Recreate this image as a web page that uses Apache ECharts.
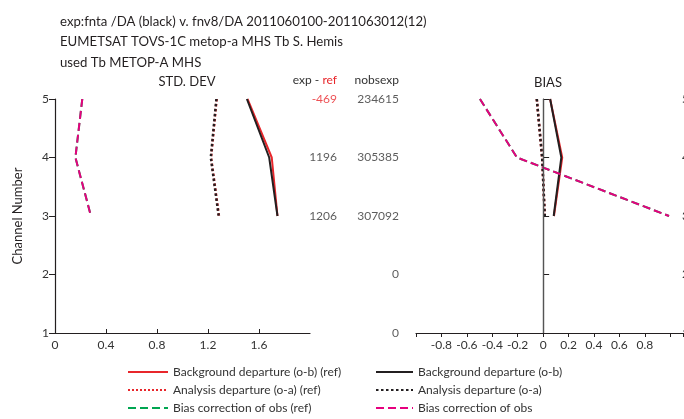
<!DOCTYPE html>
<html><head><meta charset="utf-8">
<script src="https://cdn.jsdelivr.net/npm/echarts@6/dist/echarts.min.js"></script>
<style>html,body{margin:0;padding:0;background:#fff}#c{width:684px;height:419px}</style>
</head><body><div id="c"></div>
<script>
const channels = [5, 4, 3];
const stdBgRef   = [1.51, 1.70, 1.745];
const stdBgExp   = [1.505, 1.68, 1.745];
const stdAnRef   = [1.268, 1.224, 1.286];
const stdAnExp   = [1.266, 1.222, 1.284];
const stdBcRef   = [0.214, 0.16, 0.282];
const stdBcExp   = [0.214, 0.16, 0.282];
const biasBgRef  = [0.055, 0.15, 0.085];
const biasBgExp  = [0.055, 0.143, 0.083];
const biasAnRef  = [-0.05, -0.008, 0.013];
const biasAnExp  = [-0.05, -0.008, 0.013];
const biasBcRef  = [-0.497, -0.206, 0.99];
const biasBcExp  = [-0.497, -0.206, 0.99];
const allChannels = [5, 4, 3, 2, 1];
const expMinusRef = [-469, 1196, 1206, null, null];
const nobsexp     = [234615, 305385, 307092, 0, 0];
const columnNames = ['exp - ref', 'nobsexp'];

const FONT = 'Lato';
const RED = '#e8262b', BLACK = '#231f20', GREEN = '#00a651', MAGENTA = '#e6007e';
const pair = (xs) => xs.map((x, i) => [x, channels[i]]);
const names = {
  bgRef: 'Background departure (o-b) (ref)', bgExp: 'Background departure (o-b)',
  anRef: 'Analysis departure (o-a) (ref)', anExp: 'Analysis departure (o-a)',
  bcRef: 'Bias correction of obs (ref)', bcExp: 'Bias correction of obs'
};
function ln(name, data, color, type, w, xi) {
  return { type: 'line', name, data: pair(data), xAxisIndex: xi, yAxisIndex: xi,
    symbol: 'none', lineStyle: { color, type, width: w }, itemStyle: { color }, z: 3 };
}
const axLine = { lineStyle: { color: BLACK, width: 1.2 } };
const lbl = { color: '#333', fontFamily: FONT, fontSize: 12 };
const legText = { fontFamily: FONT, fontSize: 12, color: '#333' };

const opt = {
  animation: false,
  textStyle: { fontFamily: FONT },
  title: [
    { text: 'exp:fnta /DA (black) v. fnv8/DA 2011060100-2011063012(12)\nEUMETSAT TOVS-1C metop-a MHS Tb S. Hemis\nused Tb METOP-A MHS',
      left: 55, top: 6, textStyle: { fontFamily: FONT, fontSize: 13.2, fontWeight: 'normal', color: '#231f20', lineHeight: 20.5 } },
    { text: 'STD. DEV', left: 182, top: 70, textAlign: 'center', textStyle: { fontFamily: FONT, fontSize: 13, fontWeight: 'normal', color: '#231f20' } },
    { text: 'BIAS', left: 543, top: 71, textAlign: 'center', textStyle: { fontFamily: FONT, fontSize: 13, fontWeight: 'normal', color: '#231f20' } }
  ],
  grid: [
    { left: 55, top: 99, width: 255, height: 234, outerBoundsMode: 'none' },
    { left: 416, top: 99, width: 267, height: 234, outerBoundsMode: 'none' },
    { left: 337, top: 99, width: 62, height: 234, outerBoundsMode: 'none' }
  ],
  xAxis: [
    { gridIndex: 0, type: 'value', min: 0, max: 2, interval: 0.4, splitLine: { show: false },
      axisLine: axLine, axisTick: { inside: true, length: 4, lineStyle: { color: BLACK } },
      axisLabel: Object.assign({ margin: 6, showMaxLabel: false }, lbl) },
    { gridIndex: 1, type: 'value', min: -1, max: 1.1, interval: 0.2, splitLine: { show: false },
      axisLine: axLine, axisTick: { length: 4, lineStyle: { color: BLACK } },
      axisLabel: Object.assign({ margin: 6, formatter: v => (v < -0.9 || v > 0.9) ? '' : String(+v.toFixed(1)) }, lbl) },
    { gridIndex: 2, type: 'category', data: columnNames, boundaryGap: false, position: 'top',
      axisLine: { show: false }, axisTick: { show: false },
      axisLabel: { interval: 0, hideOverlap: false, align: 'right', margin: 13, fontFamily: FONT, fontSize: 12, color: '#333',
        formatter: v => v === 'exp - ref' ? 'exp - {r|ref}' : v,
        rich: { r: { color: RED, fontFamily: FONT, fontSize: 12 } } } }
  ],
  yAxis: [
    { gridIndex: 0, type: 'value', min: 1, max: 5, interval: 1, splitLine: { show: false },
      axisLine: axLine, axisTick: { length: 6, lineStyle: { color: BLACK } },
      axisLabel: Object.assign({ margin: 6 }, lbl),
      name: 'Channel Number', nameLocation: 'middle', nameGap: 31,
      nameTextStyle: { fontFamily: FONT, fontSize: 13, color: '#231f20' } },
    { gridIndex: 1, type: 'value', min: 1, max: 5, interval: 1, position: 'right', offset: -13,
      splitLine: { show: false }, axisLine: axLine,
      axisTick: { length: 6, lineStyle: { color: BLACK } },
      axisLabel: Object.assign({ margin: 12 }, lbl) },
    { gridIndex: 2, type: 'value', min: 1, max: 5, show: false }
  ],
  legend: [
    { orient: 'vertical', left: 127, top: 366, padding: 0, itemWidth: 40, itemHeight: 12, itemGap: 6,
      itemStyle: { opacity: 0 }, textStyle: legText,
      data: [names.bgRef, names.anRef, names.bcRef] },
    { orient: 'vertical', left: 375, top: 366, padding: 0, itemWidth: 37, itemHeight: 12, itemGap: 6,
      itemStyle: { opacity: 0 }, textStyle: legText,
      data: [names.bgExp, names.anExp, names.bcExp] }
  ],
  series: [
    ln(names.bgRef, stdBgRef, RED, 'solid', 2, 0),
    ln(names.bgExp, stdBgExp, BLACK, 'solid', 2, 0),
    ln(names.anRef, stdAnRef, RED, 'dotted', 2.5, 0),
    ln(names.anExp, stdAnExp, BLACK, [2.5, 2.5], 2.5, 0),
    ln(names.bcRef, stdBcRef, GREEN, [8, 4], 2, 0),
    ln(names.bcExp, stdBcExp, MAGENTA, [8, 4], 2, 0),
    Object.assign(ln(names.bgRef, biasBgRef, RED, 'solid', 2, 1), {
      markLine: { silent: true, symbol: 'none', label: { show: false },
        lineStyle: { color: '#555', width: 1.2, type: 'solid' }, data: [{ xAxis: 0 }] } }),
    ln(names.bgExp, biasBgExp, BLACK, 'solid', 2, 1),
    ln(names.anRef, biasAnRef, RED, 'dotted', 2.5, 1),
    ln(names.anExp, biasAnExp, BLACK, [2.5, 2.5], 2.5, 1),
    ln(names.bcRef, biasBcRef, GREEN, [8, 4], 2, 1),
    ln(names.bcExp, biasBcExp, MAGENTA, [8, 4], 2, 1),
    { type: 'scatter', xAxisIndex: 2, yAxisIndex: 2, symbolSize: 0, silent: true,
      data: allChannels.map((c, i) => expMinusRef[i] === null ? null : [columnNames[0], c, expMinusRef[i]]).filter(d => d),
      label: { show: true, position: 'left', distance: 0, fontFamily: FONT, fontSize: 12,
        formatter: p => String(p.value[2]) },
      itemStyle: { color: 'transparent' } },
    { type: 'scatter', xAxisIndex: 2, yAxisIndex: 2, symbolSize: 0, silent: true,
      data: allChannels.map((c, i) => [columnNames[1], c, nobsexp[i]]),
      label: { show: true, position: 'left', distance: 0, fontFamily: FONT, fontSize: 12, color: '#333',
        formatter: p => String(p.value[2]) },
      itemStyle: { color: 'transparent' } }
  ]
};
// colour negative exp-ref values red
opt.series[12].data = opt.series[12].data.map(d => ({ value: d, label: { color: d[2] < 0 ? RED : '#333' } }));
const chart = echarts.init(document.getElementById('c'), null, { renderer: 'canvas' });
chart.setOption(opt);
</script></body></html>
